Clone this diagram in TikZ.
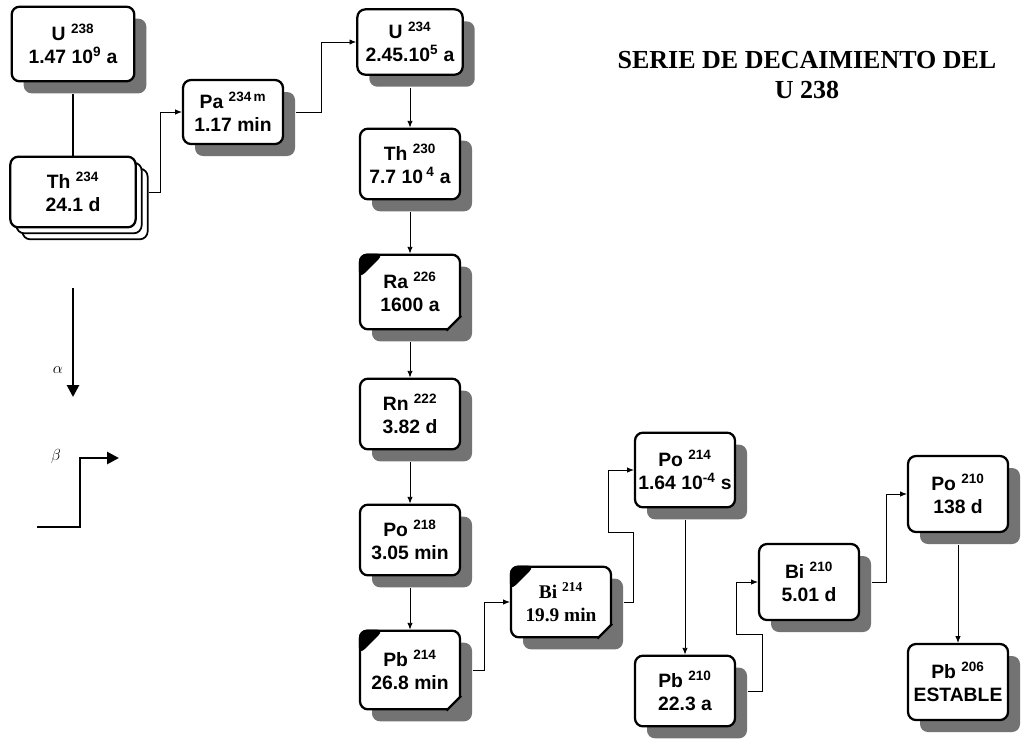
\documentclass[tikz,border=0pt]{standalone}
\usepackage{fontspec}
\setmainfont{Liberation Sans}
\newfontfamily\titlefont{Liberation Serif}
\usetikzlibrary{shapes,arrows.meta,positioning,calc,shadows}

\begin{document}
\begin{tikzpicture}[x=0.75pt, y=-0.75pt,
  nuclide/.style={draw, line width=1.7pt, rounded corners=6pt, fill=white, align=center,
    minimum width=75pt, minimum height=53pt, inner sep=2pt,
    font=\fontsize{14.5}{17}\selectfont\bfseries},
  shadowed/.style={nuclide, drop shadow={shadow xshift=9pt, shadow yshift=-9pt, fill=black!55, opacity=1}},
  stacked/.style={nuclide, double copy shadow={shadow xshift=4.5pt, shadow yshift=-4.5pt, draw=black, line width=1.3pt, fill=white}},
  decay/.style={-{Latex[length=5pt,width=4pt]}, line width=0.6pt},
  legend/.style={line width=2pt, -{Triangle[length=9pt,width=9pt]}}]
\useasboundingbox (0,0) rectangle (1027,744);

% titulo
\node[font=\titlefont\fontsize{19.5}{23}\selectfont\bfseries, align=center] (title) at (807,75) {SERIE DE DECAIMIENTO DEL\\U 238};

% cadena principal
\node[shadowed, minimum width=92pt, minimum height=56pt] (u238) at (73,44) {U \textsuperscript{238}\\1.47 10\textsuperscript{9} a};
\node[stacked, minimum width=94pt] (th234) at (73,192) {Th \textsuperscript{234}\\24.1 d};
\node[shadowed, minimum height=48pt] (pa234) at (233,112) {Pa \textsuperscript{234\,m}\\1.17 min};
\node[shadowed, minimum width=79pt, minimum height=49pt] (u234) at (410,42) {U \textsuperscript{234}\\2.45.10\textsuperscript{5} a};
\node[shadowed] (th230) at (410,164) {Th \textsuperscript{230}\\7.7 10\,\textsuperscript{4} a};
\node[shadowed, minimum height=56pt] (ra226) at (410,292) {Ra \textsuperscript{226}\\1600 a};
\node[shadowed] (rn222) at (410,414) {Rn \textsuperscript{222}\\3.82 d};
\node[shadowed] (po218) at (410,540) {Po \textsuperscript{218}\\3.05 min};
\node[shadowed, minimum height=59pt] (pb214) at (410,670) {Pb \textsuperscript{214}\\26.8 min};
\node[shadowed, font=\titlefont\fontsize{14.5}{17}\selectfont\bfseries] (bi214) at (561,602) {Bi \textsuperscript{214}\\19.9 min};
\node[shadowed, minimum height=56pt] (po214) at (685,470) {Po \textsuperscript{214}\\1.64 10\textsuperscript{-4} s};
\node[shadowed] (pb210) at (685,691) {Pb \textsuperscript{210}\\22.3 a};
\node[shadowed, minimum height=57pt] (bi210) at (809,582) {Bi \textsuperscript{210}\\5.01 d};
\node[shadowed, minimum height=57pt] (po210) at (958,494) {Po \textsuperscript{210}\\138 d};
\node[shadowed, minimum height=57pt] (pb206) at (958,682) {Pb \textsuperscript{206}\\ESTABLE};

% esquinas marcadas
\foreach \n in {ra226,pb214,bi214} {
  \fill[rounded corners=6pt] ([xshift=19pt]\n.north west) -| ([yshift=-19pt]\n.north west) -- cycle;
  \fill[black!55] ([xshift=-11pt]\n.south east) -- ([xshift=-11pt,yshift=-1.2pt]\n.south east)
    -- ([xshift=1.2pt,yshift=-1.2pt]\n.south east) -- ([xshift=1.2pt,yshift=11pt]\n.south east)
    -- ([yshift=11pt]\n.south east) -- cycle;
  \draw[line width=1.7pt] ([xshift=-11pt]\n.south east) -- ([yshift=11pt]\n.south east);
}

% conexiones
\draw[line width=2pt] ([yshift=-9pt]u238.south) -- (th234.north);
\draw[decay] ([xshift=9pt]th234.east) -- ++(12,0) |- (pa234.west);
\draw[decay] ([xshift=9pt]pa234.east) -- ++(25,0) |- (u234.west);
\draw[decay] ([yshift=-9pt]u234.south) -- (th230.north);
\draw[decay] ([yshift=-9pt]th230.south) -- (ra226.north);
\draw[decay] ([yshift=-9pt]ra226.south) -- (rn222.north);
\draw[decay] ([yshift=-9pt]rn222.south) -- (po218.north);
\draw[decay] ([yshift=-9pt]po218.south) -- (pb214.north);
\draw[decay] ([xshift=9pt]pb214.east) -- ++(11,0) |- (bi214.west);
\draw[decay] ([xshift=9pt]bi214.east) -- ++(9,0) -- ++(0,-70) -- ++(-25,0) |- (po214.west);
\draw[decay] ([yshift=-9pt]po214.south) -- (pb210.north);
\draw[decay] ([xshift=9pt]pb210.east) -- ++(14,0) -- ++(0,-57) -- ++(-26,0) |- (bi210.west);
\draw[decay] ([xshift=9pt]bi210.east) -- ++(14,0) |- (po210.west);
\draw[decay] ([yshift=-9pt]po210.south) -- (pb206.north);

% leyenda
\node[font=\fontsize{13}{15}\selectfont] (alpha) at (58,370) {$\alpha$};
\coordinate (alphatop) at (73,288);
\coordinate (alphabot) at (73,397);
\draw[legend] (alphatop) -- (alphabot);
\node[font=\fontsize{13}{15}\selectfont] (beta) at (56,456) {$\beta$};
\coordinate (betastart) at (37,527);
\coordinate (betaend) at (119,458);
\draw[legend] (betastart) -- ++(43,0) |- (betaend);
\end{tikzpicture}
\end{document}
